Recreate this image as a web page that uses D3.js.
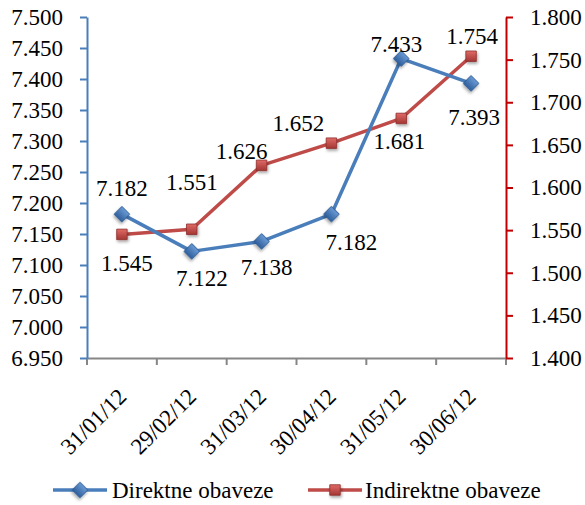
<!DOCTYPE html>
<html>
<head>
<meta charset="utf-8">
<script src="https://cdn.jsdelivr.net/npm/d3@7"></script>
<style>
    html, body { margin: 0; padding: 0; background: #fff; }
</style>
</head>
<body>
<svg id="chart"></svg>
<script>
(function () {
    'use strict';

    var dates = ['31/01/12', '29/02/12', '31/03/12', '30/04/12', '31/05/12', '30/06/12'];
    var direktne = [7.182, 7.122, 7.138, 7.182, 7.433, 7.393];
    var indirektne = [1.545, 1.551, 1.626, 1.652, 1.681, 1.754];
    var leftTicks = [6.95, 7.0, 7.05, 7.1, 7.15, 7.2, 7.25, 7.3, 7.35, 7.4, 7.45, 7.5];
    var rightTicks = [1.4, 1.45, 1.5, 1.55, 1.6, 1.65, 1.7, 1.75, 1.8];
    var seriesNames = ['Direktne obaveze', 'Indirektne obaveze'];

    // label offsets (dx, dy from the point) as Excel placed them
    var blueLabelPos = [[0, -26], [10, 27], [5, 26], [20, 28], [-5, -15], [3, 34]];
    var redLabelPos = [[5, 29], [0, -47], [-20, -14], [-33, -20], [-2, 23], [1, -20]];

    var width = 585, height = 505;
    var left = 87, right = 506, top = 17, bottom = 358;
    var blue = '#4a7ebb', red = '#be4b48';
    var font = 'Liberation Serif, Tinos, Times New Roman, DejaVu Serif, serif';
    var fmt = d3.format('.3f');

    var svg = d3.select('#chart').attr('width', width).attr('height', height)
        .attr('font-family', font);

    var defs = svg.append('defs');
    defs.append('filter').attr('id', 'shadow')
        .attr('x', '-50%').attr('y', '-50%').attr('width', '200%').attr('height', '200%')
        .append('feDropShadow')
        .attr('dx', 1).attr('dy', 2).attr('stdDeviation', 1.5)
        .attr('flood-color', '#000').attr('flood-opacity', 0.35);
    var gb = defs.append('linearGradient').attr('id', 'gBlue')
        .attr('x1', 0).attr('y1', 0).attr('x2', 0).attr('y2', 1);
    gb.append('stop').attr('offset', '0%').attr('stop-color', '#6b9bd6');
    gb.append('stop').attr('offset', '100%').attr('stop-color', '#2f5f9c');
    var gr = defs.append('linearGradient').attr('id', 'gRed')
        .attr('x1', 0).attr('y1', 0).attr('x2', 0).attr('y2', 1);
    gr.append('stop').attr('offset', '0%').attr('stop-color', '#e06a66');
    gr.append('stop').attr('offset', '100%').attr('stop-color', '#a33633');

    var x = d3.scaleBand().domain(dates).range([left, right]).padding(0);
    var yL = d3.scaleLinear().domain([6.95, 7.5]).range([bottom, top]);
    var yR = d3.scaleLinear().domain([1.4, 1.8]).range([bottom, top]);
    var cx = function (d) { return x(d) + x.bandwidth() / 2; };

    // bottom axis
    var xAxis = svg.append('g')
        .attr('transform', 'translate(0,' + bottom + ')')
        .call(d3.axisBottom(x).tickSize(0).tickFormat(''));
    xAxis.select('.domain').attr('stroke', '#868686').attr('stroke-width', 2);
    xAxis.selectAll('.boundary')
        .data(d3.range(dates.length + 1))
        .enter().append('line')
        .attr('x1', function (i) { return left + i * x.bandwidth(); })
        .attr('x2', function (i) { return left + i * x.bandwidth(); })
        .attr('y1', 0).attr('y2', 7)
        .attr('stroke', '#868686').attr('stroke-width', 2);

    svg.append('g').selectAll('text')
        .data(dates)
        .enter().append('text')
        .attr('transform', function (d) {
            return 'translate(' + (cx(d) + 6) + ',' + 398 + ') rotate(-45)';
        })
        .attr('text-anchor', 'end')
        .attr('font-size', 23)
        .attr('fill', '#000')
        .text(function (d) { return d; });

    // left axis
    var lAxis = svg.append('g')
        .attr('transform', 'translate(' + left + ',0)')
        .call(d3.axisLeft(yL).tickValues(leftTicks).tickSize(7).tickSizeOuter(0).tickPadding(17).tickFormat(fmt));
    lAxis.attr('font-family', font).attr('font-size', 23);
    lAxis.select('.domain').attr('stroke', blue).attr('stroke-width', 2);
    lAxis.selectAll('.tick line').attr('stroke', blue).attr('stroke-width', 2);
    lAxis.selectAll('.tick text').attr('fill', '#000');

    // right axis
    var rAxis = svg.append('g')
        .attr('transform', 'translate(' + right + ',0)')
        .call(d3.axisRight(yR).tickValues(rightTicks).tickSize(7).tickSizeOuter(0).tickPadding(17).tickFormat(fmt));
    rAxis.attr('font-family', font).attr('font-size', 23);
    rAxis.select('.domain').attr('stroke', '#c00000').attr('stroke-width', 2);
    rAxis.selectAll('.tick line').attr('stroke', '#c00000').attr('stroke-width', 2);
    rAxis.selectAll('.tick text').attr('fill', '#000');

    // lines
    var lineL = d3.line().x(function (d, i) { return cx(dates[i]); }).y(function (d) { return yL(d); });
    var lineR = d3.line().x(function (d, i) { return cx(dates[i]); }).y(function (d) { return yR(d); });

    svg.append('path').datum(indirektne)
        .attr('d', lineR).attr('fill', 'none')
        .attr('stroke', red).attr('stroke-width', 3.5).attr('stroke-linejoin', 'round');
    svg.append('path').datum(direktne)
        .attr('d', lineL).attr('fill', 'none')
        .attr('stroke', blue).attr('stroke-width', 3.5).attr('stroke-linejoin', 'round');

    var diamond = d3.symbol().type(d3.symbolSquare).size(120);
    var square = d3.symbol().type(d3.symbolSquare).size(110);

    svg.append('g').selectAll('path')
        .data(indirektne)
        .enter().append('path')
        .attr('d', square)
        .attr('transform', function (d, i) { return 'translate(' + cx(dates[i]) + ',' + yR(d) + ')'; })
        .attr('fill', 'url(#gRed)').attr('stroke', '#8e2f2c').attr('stroke-width', 0.8)
        .attr('filter', 'url(#shadow)');

    svg.append('g').selectAll('path')
        .data(direktne)
        .enter().append('path')
        .attr('d', diamond)
        .attr('transform', function (d, i) { return 'translate(' + cx(dates[i]) + ',' + yL(d) + ') rotate(45)'; })
        .attr('fill', 'url(#gBlue)').attr('stroke', '#2c5a94').attr('stroke-width', 0.8)
        .attr('filter', 'url(#shadow)');

    // data labels
    svg.append('g').selectAll('text')
        .data(direktne)
        .enter().append('text')
        .attr('x', function (d, i) { return cx(dates[i]) + blueLabelPos[i][0]; })
        .attr('y', function (d, i) { return yL(d) + blueLabelPos[i][1]; })
        .attr('dy', '0.35em')
        .attr('text-anchor', 'middle').attr('font-size', 23).attr('fill', '#000')
        .text(fmt);

    svg.append('g').selectAll('text')
        .data(indirektne)
        .enter().append('text')
        .attr('x', function (d, i) { return cx(dates[i]) + redLabelPos[i][0]; })
        .attr('y', function (d, i) { return yR(d) + redLabelPos[i][1]; })
        .attr('dy', '0.35em')
        .attr('text-anchor', 'middle').attr('font-size', 23).attr('fill', '#000')
        .text(fmt);

    // legend
    var legend = svg.append('g').attr('transform', 'translate(0,490)');
    var items = [
        { name: seriesNames[0], color: blue, fill: 'url(#gBlue)', stroke: '#2c5a94', shape: diamond, rot: 45, x0: 53, tx: 112 },
        { name: seriesNames[1], color: red, fill: 'url(#gRed)', stroke: '#8e2f2c', shape: square, rot: 0, x0: 308, tx: 365 }
    ];
    var li = legend.selectAll('g').data(items).enter().append('g');
    li.append('line')
        .attr('x1', function (d) { return d.x0; })
        .attr('x2', function (d) { return d.x0 + 54; })
        .attr('y1', 0).attr('y2', 0)
        .attr('stroke', function (d) { return d.color; }).attr('stroke-width', 3.5);
    li.append('path')
        .attr('d', function (d) { return d.shape(); })
        .attr('transform', function (d) { return 'translate(' + (d.x0 + 27) + ',0) rotate(' + d.rot + ')'; })
        .attr('fill', function (d) { return d.fill; })
        .attr('stroke', function (d) { return d.stroke; }).attr('stroke-width', 0.8)
        .attr('filter', 'url(#shadow)');
    li.append('text')
        .attr('x', function (d) { return d.tx; })
        .attr('y', 0).attr('dy', '0.35em')
        .attr('font-size', 23).attr('fill', '#000')
        .text(function (d) { return d.name; });
})();
</script>
</body>
</html>
